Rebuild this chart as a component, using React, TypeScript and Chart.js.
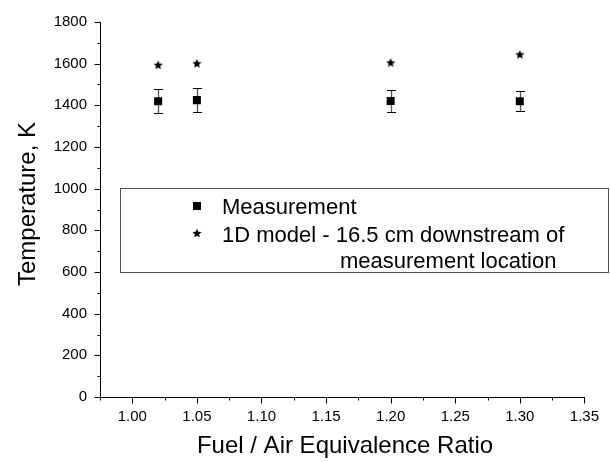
import React, { useEffect, useRef } from "react";
import { Chart, registerables } from "chart.js";

Chart.register(...registerables);

const FONT = "Arial, 'Liberation Sans', Helvetica, sans-serif";

// Data
const equivalenceRatio = [1.02, 1.05, 1.2, 1.3];
const measuredTemp = [1420, 1425, 1421, 1420];
const measuredErr = [57, 58, 52, 48];
const modelTemp = [1595, 1602, 1606, 1645];

// Axes
const xMajorTicks = [1.0, 1.05, 1.1, 1.15, 1.2, 1.25, 1.3, 1.35];
const xMinorTicks = [0.975, 1.025, 1.075, 1.125, 1.175, 1.225, 1.275, 1.325];
const yMajorTicks = [0, 200, 400, 600, 800, 1000, 1200, 1400, 1600, 1800];
const yMinorTicks = [100, 300, 500, 700, 900, 1100, 1300, 1500, 1700];

const xTitle = "Fuel / Air Equivalence Ratio";
const yTitle = "Temperature, K";
const legendLabels = ["Measurement", "1D model - 16.5 cm downstream of", "measurement location"];

function makeStar(r: number): HTMLCanvasElement {
  const size = Math.ceil(r * 2) + 2;
  const c = document.createElement("canvas");
  c.width = size;
  c.height = size;
  const ctx = c.getContext("2d")!;
  ctx.fillStyle = "#000";
  ctx.beginPath();
  for (let i = 0; i < 10; i++) {
    const rr = i % 2 === 0 ? r : r * 0.45;
    const a = -Math.PI / 2 + (i * Math.PI) / 5;
    const x = size / 2 + rr * Math.cos(a);
    const y = size / 2 + 0.5 + rr * Math.sin(a);
    if (i === 0) ctx.moveTo(x, y);
    else ctx.lineTo(x, y);
  }
  ctx.closePath();
  ctx.fill();
  return c;
}

function line(ctx: CanvasRenderingContext2D, x1: number, y1: number, x2: number, y2: number) {
  ctx.beginPath();
  ctx.moveTo(x1, y1);
  ctx.lineTo(x2, y2);
  ctx.stroke();
}

export default function App() {
  const ref = useRef<HTMLCanvasElement | null>(null);

  useEffect(() => {
    if (!ref.current) return;
    const star = makeStar(4.8);

    const decor = {
      id: "decor",
      beforeDatasetsDraw(chart: any) {
        const ctx: CanvasRenderingContext2D = chart.ctx;
        const xs = chart.scales.x;
        const ys = chart.scales.y;
        ctx.save();
        equivalenceRatio.forEach((r, i) => {
          const px = Math.round(xs.getPixelForValue(r)) + 0.5;
          const top = Math.round(ys.getPixelForValue(measuredTemp[i] + measuredErr[i])) + 0.5;
          const bot = Math.round(ys.getPixelForValue(measuredTemp[i] - measuredErr[i])) + 0.5;
          ctx.lineWidth = 1.3;
          ctx.strokeStyle = "#555";
          line(ctx, px, top, px, bot);
          ctx.lineWidth = 1;
          ctx.strokeStyle = "#000";
          line(ctx, px - 4.5, top, px + 4.5, top);
          line(ctx, px - 4.5, bot, px + 4.5, bot);
        });
        ctx.restore();
      },
      afterDraw(chart: any) {
        const ctx: CanvasRenderingContext2D = chart.ctx;
        const xs = chart.scales.x;
        const ys = chart.scales.y;
        const area = chart.chartArea;
        ctx.save();
        ctx.strokeStyle = "#000";
        ctx.lineWidth = 1;
        const b = Math.round(area.bottom) + 0.5;
        const l = Math.round(area.left) + 0.5;
        xMajorTicks.forEach((v) => {
          const px = Math.round(xs.getPixelForValue(v)) + 0.5;
          line(ctx, px, b, px, b + 6);
        });
        xMinorTicks.forEach((v) => {
          const px = Math.round(xs.getPixelForValue(v)) + 0.5;
          line(ctx, px, b, px, b + 3);
        });
        yMajorTicks.forEach((v) => {
          const py = Math.round(ys.getPixelForValue(v)) + 0.5;
          line(ctx, l - 6, py, l, py);
        });
        yMinorTicks.forEach((v) => {
          const py = Math.round(ys.getPixelForValue(v)) + 0.5;
          line(ctx, l - 3, py, l, py);
        });

        // Axis titles
        ctx.fillStyle = "#000";
        ctx.font = `24px ${FONT}`;
        ctx.textAlign = "center";
        ctx.textBaseline = "alphabetic";
        ctx.fillText(xTitle, 345, 453);
        ctx.save();
        ctx.translate(35, 204);
        ctx.rotate(-Math.PI / 2);
        ctx.fillText(yTitle, 0, 0);
        ctx.restore();

        // Legend
        ctx.fillStyle = "#fff";
        ctx.fillRect(120.5, 188.5, 488, 84);
        ctx.strokeStyle = "#555";
        ctx.lineWidth = 1;
        ctx.strokeRect(120.5, 188.5, 488, 84);
        ctx.fillStyle = "#000";
        ctx.fillRect(193, 202, 8, 8);
        ctx.drawImage(star, 197 - star.width / 2, 233 - star.height / 2);
        ctx.font = `22px ${FONT}`;
        ctx.textAlign = "left";
        ctx.fillText(legendLabels[0], 222, 214);
        ctx.fillText(legendLabels[1], 222, 241.5);
        ctx.fillText(legendLabels[2], 340, 268);
        ctx.restore();
      },
    };

    const chart = new Chart(ref.current, {
      type: "scatter",
      data: {
        datasets: [
          {
            label: legendLabels[0],
            data: equivalenceRatio.map((x, i) => ({ x, y: measuredTemp[i] })),
            pointStyle: "rect",
            pointRadius: 5.66,
            backgroundColor: "#000",
            borderColor: "#000",
            borderWidth: 0,
          },
          {
            label: legendLabels[1] + " " + legendLabels[2],
            data: equivalenceRatio.map((x, i) => ({ x, y: modelTemp[i] })),
            pointStyle: star as any,
            pointRadius: 5,
            backgroundColor: "#000",
            borderWidth: 0,
          },
        ],
      },
      options: {
        animation: false,
        responsive: false,
        devicePixelRatio: 1,
        layout: { padding: { top: 13, right: 20, left: 0, bottom: 0 } },
        plugins: { legend: { display: false }, tooltip: { enabled: false } },
        scales: {
          x: {
            type: "linear",
            min: 0.975,
            max: 1.35,
            afterBuildTicks: (s: any) => {
              s.ticks = xMajorTicks.map((v) => ({ value: v }));
            },
            afterFit: (s: any) => {
              s.height = 65;
            },
            grid: { display: false, drawTicks: false },
            border: { display: true, color: "#000", width: 1 },
            ticks: {
              color: "#000",
              font: { family: FONT, size: 15 },
              padding: 11,
              maxRotation: 0,
              autoSkip: false,
              callback: (v: any) => Number(v).toFixed(2),
            },
          },
          y: {
            type: "linear",
            min: 0,
            max: 1800,
            afterBuildTicks: (s: any) => {
              s.ticks = yMajorTicks.map((v) => ({ value: v }));
            },
            afterFit: (s: any) => {
              s.width = 100;
            },
            grid: { display: false, drawTicks: false },
            border: { display: true, color: "#000", width: 1 },
            ticks: {
              color: "#000",
              font: { family: FONT, size: 15 },
              padding: 13,
              autoSkip: false,
              callback: (v: any) => String(v),
            },
          },
        },
      },
      plugins: [decor],
    });
    return () => chart.destroy();
  }, []);

  return (
    <div style={{ position: "absolute", left: 0, top: 0, width: 610, height: 462, background: "#fff" }}>
      <canvas ref={ref} width={610} height={462} style={{ display: "block" }} />
    </div>
  );
}
